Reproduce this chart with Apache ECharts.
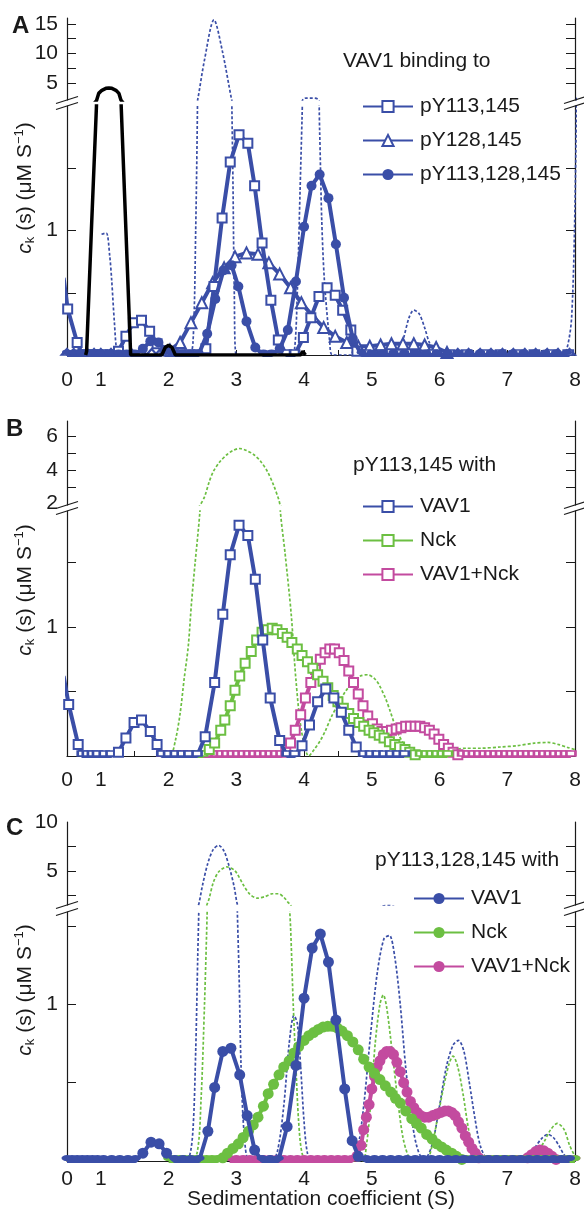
<!DOCTYPE html>
<html>
<head>
<meta charset="UTF-8">
<title>VAV1 sedimentation c(s)</title>
<script src="https://cdn.jsdelivr.net/npm/echarts@6/dist/echarts.min.js"></script>
<style>
  html, body { margin: 0; padding: 0; background: #fff; }
  #chart { width: 584px; height: 1217px; }
</style>
</head>
<body>
<div id="chart"></div>
<script>
// ---- data, [S, c(s)] pairs ----
// panel A : VAV1 binding to
var aSq113 = [[-0.1,0.62],[0.02,0.37],[0.3,0.1],[0.45,0],[0.6,0],[0.75,0],[0.9,0],[1.02,0],[1.14,0],[1.26,0.03],[1.37,0.15],[1.48,0.26],[1.6,0.28],[1.72,0.19],[1.83,0.09],[1.95,0],[2.07,0],[2.19,0],[2.31,0],[2.43,0],[2.55,0.05],[2.67,0.55],[2.79,1.1],[2.91,1.55],[3.04,1.77],[3.17,1.7],[3.27,1.36],[3.38,0.9],[3.51,0.44],[3.62,0.12],[3.74,0],[3.86,0],[3.99,0.14],[4.1,0.3],[4.22,0.47],[4.34,0.54],[4.46,0.48],[4.57,0.36],[4.69,0.2],[4.78,0.03],[4.9,0],[5.15,0],[5.4,0],[5.65,0],[5.9,0],[6.15,0],[6.4,0],[6.65,0],[6.9,0],[7.15,0],[7.4,0],[7.65,0],[7.9,0]];
var aTri128 = [[0,0],[0.2,0],[0.4,0],[0.6,0],[0.8,0],[1.0,0],[1.15,0],[1.3,0],[1.45,0],[1.6,0],[1.75,0],[1.88,0],[2.02,0.04],[2.17,0.1],[2.33,0.26],[2.49,0.42],[2.65,0.58],[2.82,0.7],[2.98,0.79],[3.15,0.82],[3.32,0.81],[3.48,0.74],[3.64,0.65],[3.8,0.54],[3.96,0.42],[4.13,0.31],[4.29,0.22],[4.46,0.15],[4.63,0.1],[4.8,0.07],[4.97,0.07],[5.13,0.08],[5.29,0.09],[5.46,0.09],[5.62,0.09],[5.78,0.08],[5.95,0.06],[6.11,0.02],[6.27,0],[6.43,0],[6.6,0],[6.76,0],[6.93,0],[7.09,0],[7.26,0],[7.42,0],[7.59,0],[7.75,0],[7.92,0]];
var aCir113128 = [[0,0],[0.2,0],[0.4,0],[0.6,0],[0.8,0],[1.0,0],[1.13,0],[1.26,0],[1.38,0],[1.5,0],[1.62,0.05],[1.73,0.11],[1.85,0.1],[1.96,0.04],[2.08,0],[2.2,0],[2.32,0],[2.44,0],[2.57,0.17],[2.69,0.45],[2.81,0.68],[2.93,0.72],[3.03,0.55],[3.15,0.27],[3.28,0.06],[3.4,0],[3.52,0],[3.64,0.05],[3.76,0.2],[3.88,0.59],[4.0,1.03],[4.11,1.36],[4.23,1.45],[4.36,1.26],[4.47,0.89],[4.59,0.46],[4.72,0.13],[4.85,0],[5.0,0],[5.16,0],[5.32,0],[5.48,0],[5.64,0],[5.8,0],[5.96,0],[6.12,0],[6.28,0],[6.44,0],[6.6,0],[6.76,0],[6.92,0],[7.08,0],[7.24,0],[7.4,0],[7.56,0],[7.72,0],[7.88,0]];
var aDotted = [[1.01,0.97],[1.08,0.98],[1.13,0.8],[1.16,0.6],[1.2,0.26],[1.24,0.02],[1.3,0],[1.6,0],[2.0,0],[2.3,0],[2.36,0.1],[2.4,1.0],[2.43,2.2],[2.53,8.9],[2.67,15.7],[2.79,10.6],[2.93,2.2],[2.95,1.4],[2.97,0.5],[3.0,0],[3.5,0],[3.8,0],[3.86,0.05],[3.9,0.5],[3.94,1.3],[3.97,1.9],[3.99,2.3],[4.03,2.45],[4.12,2.45],[4.2,2.3],[4.23,1.8],[4.26,1.1],[4.3,0.6],[4.38,0.1],[4.42,0],[5.3,0],[5.4,0.05],[5.46,0.12],[5.55,0.3],[5.62,0.36],[5.7,0.33],[5.78,0.22],[5.85,0.1],[5.95,0.02],[6.05,0],[7.8,0],[7.88,0.05],[7.95,0.3],[8.0,1.2],[8.03,2.5]];
var aBlack = [[0.55,0],[0.58,0.03],[0.72,1.0],[0.87,2.0],[0.875,2.12],[0.935,3.24],[1.015,3.76],[1.074,4.09],[1.119,4.15],[1.163,4.09],[1.222,3.76],[1.267,3.24],[1.296,2.12],[1.3,2.0],[1.37,1.0],[1.44,0],[1.9,0],[1.95,0.06],[2.0,0.08],[2.05,0.06],[2.1,0],[3.95,0],[3.98,0.03],[4.02,0]];

// panel B : pY113,145 with
var bVav = [[-0.1,0.62],[0.05,0.4],[0.33,0.09],[0.45,0],[0.6,0],[0.75,0],[0.9,0],[1.05,0],[1.15,0],[1.26,0.03],[1.37,0.14],[1.49,0.26],[1.6,0.28],[1.73,0.19],[1.83,0.09],[1.9,0],[2.0,0],[2.1,0],[2.2,0],[2.3,0],[2.42,0],[2.54,0.15],[2.68,0.57],[2.8,1.1],[2.91,1.56],[3.04,1.79],[3.17,1.71],[3.28,1.37],[3.39,0.9],[3.5,0.45],[3.64,0.12],[3.75,0],[3.86,0],[3.97,0.08],[4.08,0.24],[4.2,0.42],[4.32,0.52],[4.44,0.45],[4.55,0.34],[4.66,0.2],[4.77,0.07],[4.88,0],[4.98,0],[5.08,0],[5.18,0],[5.28,0],[5.38,0],[5.48,0]];
var bNck = [[2.4,0],[2.5,0],[2.6,0.05],[2.68,0.1],[2.77,0.2],[2.83,0.28],[2.91,0.39],[2.98,0.51],[3.05,0.62],[3.13,0.72],[3.22,0.81],[3.3,0.9],[3.38,0.96],[3.46,0.98],[3.53,0.99],[3.6,0.98],[3.68,0.95],[3.75,0.92],[3.82,0.88],[3.9,0.83],[3.97,0.78],[4.05,0.73],[4.13,0.68],[4.2,0.63],[4.28,0.58],[4.35,0.53],[4.43,0.47],[4.5,0.42],[4.58,0.37],[4.66,0.33],[4.73,0.29],[4.81,0.26],[4.88,0.23],[4.96,0.2],[5.03,0.18],[5.11,0.16],[5.18,0.14],[5.26,0.11],[5.34,0.09],[5.41,0.07],[5.49,0.05],[5.56,0.03],[5.64,0.01],[5.72,0],[5.8,0],[5.88,0],[5.96,0],[6.04,0],[6.12,0]];
var bBoth = [[1.9,0],[1.98,0],[2.06,0],[2.14,0],[2.22,0],[2.3,0],[2.38,0],[2.46,0],[2.54,0],[2.62,0],[2.7,0],[2.78,0],[2.86,0],[2.94,0],[3.02,0],[3.1,0],[3.18,0],[3.26,0],[3.34,0],[3.42,0],[3.5,0],[3.58,0],[3.66,0],[3.73,0.03],[3.8,0.1],[3.87,0.2],[3.95,0.32],[4.02,0.45],[4.1,0.57],[4.17,0.67],[4.24,0.75],[4.31,0.8],[4.38,0.83],[4.45,0.83],[4.52,0.8],[4.59,0.74],[4.66,0.66],[4.73,0.57],[4.8,0.48],[4.87,0.39],[4.94,0.31],[5.01,0.25],[5.08,0.21],[5.15,0.19],[5.22,0.19],[5.29,0.2],[5.36,0.21],[5.43,0.22],[5.5,0.23],[5.57,0.23],[5.64,0.23],[5.71,0.23],[5.78,0.22],[5.85,0.2],[5.92,0.17],[5.99,0.13],[6.06,0.09],[6.13,0.06],[6.2,0.03],[6.27,0.01],[6.34,0],[6.42,0],[6.5,0],[6.58,0],[6.66,0],[6.74,0],[6.82,0],[6.9,0],[6.98,0],[7.06,0],[7.14,0],[7.22,0],[7.3,0],[7.38,0],[7.46,0],[7.54,0],[7.62,0],[7.7,0],[7.78,0],[7.86,0],[7.94,0]];
var bNckDash = [[1.9,0],[2.02,0],[2.1,0.12],[2.17,0.33],[2.23,0.6],[2.29,0.85],[2.34,1.2],[2.39,1.49],[2.46,1.88],[2.53,2.4],[2.6,3.3],[2.66,3.9],[2.76,4.5],[2.86,4.9],[2.95,5.15],[3.05,5.27],[3.15,5.15],[3.26,4.9],[3.36,4.5],[3.46,3.9],[3.55,3.1],[3.63,2.2],[3.65,1.9],[3.72,1.57],[3.81,1.1],[3.88,0.59],[3.96,0.2],[4.07,0],[4.15,0.05],[4.24,0.12],[4.31,0.19],[4.4,0.3],[4.5,0.4],[4.61,0.5],[4.72,0.57],[4.83,0.62],[4.94,0.63],[5.04,0.6],[5.11,0.55],[5.2,0.45],[5.27,0.35],[5.34,0.24],[5.41,0.15],[5.48,0.09],[5.56,0.05],[5.65,0.03],[5.8,0.03],[6.0,0.04],[6.2,0.05],[6.4,0.06],[6.6,0.06],[6.9,0.07],[7.15,0.08],[7.4,0.1],[7.6,0.105],[7.75,0.09],[7.9,0.065],[8.0,0.05]];

// panel C : pY113,128,145 with
var cVav = [[0,0],[0.15,0],[0.3,0],[0.45,0],[0.6,0],[0.75,0],[0.9,0],[1.04,0],[1.16,0],[1.28,0],[1.4,0],[1.51,0],[1.62,0.05],[1.74,0.12],[1.86,0.11],[1.97,0.05],[2.09,0],[2.21,0],[2.33,0],[2.45,0],[2.58,0.19],[2.68,0.47],[2.8,0.7],[2.92,0.72],[3.05,0.55],[3.16,0.29],[3.27,0.07],[3.38,0],[3.5,0],[3.62,0],[3.75,0.22],[3.88,0.61],[4.0,1.04],[4.12,1.36],[4.24,1.45],[4.36,1.27],[4.47,0.9],[4.6,0.46],[4.71,0.13],[4.8,0.03],[4.92,0],[5.04,0],[5.16,0],[5.28,0],[5.4,0],[5.52,0],[5.64,0],[5.76,0],[5.88,0],[6.0,0],[6.12,0],[6.24,0],[6.36,0],[6.48,0],[6.6,0],[6.72,0],[6.84,0],[6.96,0],[7.08,0],[7.2,0],[7.32,0],[7.44,0],[7.56,0],[7.68,0],[7.8,0],[7.92,0]];
var cNck = [[2.0,0],[2.08,0],[2.16,0],[2.24,0],[2.32,0],[2.4,0],[2.48,0],[2.56,0],[2.64,0],[2.72,0],[2.8,0.02],[2.87,0.05],[2.95,0.08],[3.03,0.11],[3.1,0.15],[3.18,0.19],[3.25,0.23],[3.32,0.28],[3.4,0.35],[3.47,0.43],[3.55,0.49],[3.63,0.55],[3.7,0.6],[3.78,0.64],[3.85,0.69],[3.92,0.73],[4.0,0.77],[4.07,0.8],[4.14,0.82],[4.21,0.84],[4.28,0.855],[4.35,0.86],[4.42,0.86],[4.49,0.85],[4.56,0.83],[4.64,0.8],[4.72,0.76],[4.8,0.71],[4.88,0.65],[4.96,0.6],[5.04,0.56],[5.12,0.52],[5.2,0.48],[5.28,0.44],[5.35,0.4],[5.42,0.37],[5.5,0.32],[5.59,0.27],[5.66,0.24],[5.73,0.21],[5.81,0.17],[5.89,0.14],[5.96,0.11],[6.03,0.09],[6.1,0.07],[6.18,0.05],[6.25,0.03],[6.33,0.01],[6.4,0],[6.5,0],[6.6,0],[6.7,0],[6.8,0],[6.9,0],[7.0,0],[7.1,0],[7.2,0],[7.3,0],[7.4,0],[7.5,0],[7.6,0],[7.7,0],[7.8,0],[7.9,0],[8.0,0]];
var cBoth = [[2.9,0],[3.0,0],[3.1,0],[3.2,0],[3.3,0],[3.4,0],[3.5,0],[3.6,0],[3.7,0],[3.8,0],[3.9,0],[4.0,0],[4.1,0],[4.2,0],[4.3,0],[4.4,0],[4.5,0],[4.6,0],[4.7,0],[4.78,0.03],[4.84,0.1],[4.88,0.2],[4.92,0.28],[4.96,0.36],[5.0,0.46],[5.04,0.54],[5.08,0.6],[5.12,0.64],[5.17,0.68],[5.22,0.7],[5.27,0.7],[5.32,0.68],[5.37,0.63],[5.42,0.57],[5.47,0.5],[5.52,0.44],[5.57,0.38],[5.62,0.34],[5.67,0.31],[5.72,0.29],[5.78,0.28],[5.84,0.28],[5.9,0.29],[5.96,0.3],[6.02,0.31],[6.08,0.32],[6.13,0.32],[6.18,0.31],[6.23,0.29],[6.28,0.25],[6.33,0.21],[6.38,0.16],[6.43,0.12],[6.48,0.08],[6.53,0.05],[6.58,0.02],[6.64,0],[6.74,0],[6.84,0],[6.94,0],[7.04,0],[7.14,0],[7.24,0],[7.3,0.02],[7.36,0.04],[7.42,0.06],[7.48,0.07],[7.54,0.065],[7.6,0.05],[7.66,0.03],[7.72,0.01],[7.8,0],[7.9,0],[8.0,0]];
var cVavDash = [[2.2,0],[2.3,0.02],[2.36,0.2],[2.4,0.7],[2.43,1.3],[2.45,1.7],[2.5,3.5],[2.58,5.8],[2.66,7.2],[2.74,7.6],[2.82,7.0],[2.9,5.3],[2.97,3.3],[3.01,1.7],[3.04,1.2],[3.07,0.6],[3.12,0.15],[3.2,0],[3.5,0],[3.6,0.05],[3.7,0.35],[3.78,0.75],[3.85,0.93],[3.9,0.88],[3.95,0.6],[4.0,0.25],[4.05,0.05],[4.12,0],[4.7,0],[4.78,0.05],[4.88,0.35],[4.98,0.8],[5.08,1.2],[5.18,1.42],[5.26,1.44],[5.34,1.3],[5.42,1.0],[5.5,0.6],[5.58,0.3],[5.66,0.1],[5.75,0.02],[5.82,0.03],[5.9,0.12],[6.0,0.35],[6.1,0.6],[6.2,0.74],[6.28,0.77],[6.36,0.7],[6.44,0.5],[6.52,0.28],[6.6,0.1],[6.7,0.01],[6.8,0],[7.2,0],[7.3,0.02],[7.4,0.08],[7.5,0.14],[7.6,0.17],[7.68,0.15],[7.76,0.1],[7.84,0.04],[7.95,0],[8.0,0]];
var cNckDash = [[2.3,0],[2.42,0.05],[2.48,0.4],[2.53,1.0],[2.57,1.6],[2.6,2.2],[2.66,3.8],[2.74,4.9],[2.86,5.4],[2.98,5.0],[3.1,3.6],[3.2,2.6],[3.31,2.2],[3.42,2.35],[3.53,2.65],[3.62,2.65],[3.7,2.3],[3.76,1.8],[3.8,1.5],[3.84,1.0],[3.88,0.6],[3.92,0.25],[3.97,0.05],[4.05,0],[4.85,0],[4.92,0.1],[4.98,0.35],[5.05,0.75],[5.12,1.0],[5.17,1.06],[5.22,0.98],[5.3,0.7],[5.38,0.4],[5.46,0.15],[5.55,0.02],[5.62,0],[5.8,0],[5.88,0.08],[5.96,0.25],[6.05,0.45],[6.14,0.62],[6.2,0.67],[6.27,0.6],[6.35,0.42],[6.43,0.2],[6.52,0.05],[6.6,0],[7.3,0],[7.42,0.04],[7.54,0.12],[7.64,0.2],[7.74,0.24],[7.84,0.2],[7.92,0.1],[8.0,0.03]];

// axis ticks / labels (S and c(s) values)
var xTickLabels = [0, 1, 2, 3, 4, 5, 6, 7, 8];
var yRange  = [[2.12, 16], [0, 2.0], [1.92, 6.9], [0, 1.9], [1.5, 10], [0, 1.59]];
var yTicks  = [[5, 7.5, 10, 12.5, 15], [0.5, 1, 1.5], [3, 4, 5, 6], [0.5, 1, 1.5], [2.5, 5, 7.5], [0.5, 1, 1.5]];
var yLabels = [[5, 10, 15], [1], [2, 4, 6], [1], [5, 10], [1]];

// ---- layout ----
var FONT = "'Liberation Sans', Arial, sans-serif";
var BLUE = '#3a4ea7', GREEN = '#6cbf42', MAG = '#c34b9f', INK = '#1a1a1a';
var gridBoxes = [
  {top: 18,  height: 82}, {top: 106, height: 249},
  {top: 421, height: 84}, {top: 511, height: 245},
  {top: 822, height: 83}, {top: 912, height: 249}
];
var xLabelMargin = [0, 15, 0, 14, 0, 8];

// the 0-1 S segment is drawn at half scale
function tx(s) { return s < 1 ? s * 0.5 : s - 0.5; }
function xy(arr) { return arr.map(function (p) { return [tx(p[0]), p[1]]; }); }

var myChart = echarts.init(document.getElementById('chart'), null, {renderer: 'canvas'});

var grids = [], xAxes = [], yAxes = [];
gridBoxes.forEach(function (g, i) {
  var lower = i % 2 === 1;
  grids.push({left: 67, right: 9, top: g.top, height: g.height});
  xAxes.push({
    gridIndex: i, type: 'value', min: 0, max: 7.5, interval: 0.5, show: lower,
    axisLine: {lineStyle: {color: INK, width: 1.2}},
    axisTick: {inside: true, length: 5, lineStyle: {color: INK}},
    axisLabel: {
      customValues: xTickLabels.map(tx),
      formatter: function (v) { return String(Math.round(v <= 0.5 ? v * 2 : v + 0.5)); },
      fontFamily: FONT, fontSize: 21, color: INK, margin: xLabelMargin[i]
    },
    splitLine: {show: false}
  });
  ['left', 'right'].forEach(function (pos) {
    yAxes.push({
      gridIndex: i, type: 'value', position: pos,
      min: yRange[i][0], max: yRange[i][1],
      axisLine: {show: true, lineStyle: {color: INK, width: 1.2}},
      axisTick: {show: true, inside: true, length: 9, customValues: yTicks[i], lineStyle: {color: INK}},
      axisLabel: {show: pos === 'left', customValues: yLabels[i], fontFamily: FONT, fontSize: 21, color: INK, margin: 9},
      splitLine: {show: false}
    });
  });
});

// points lying on the baseline are half hidden by the axis in the original
function solid(name, data, grid, color, symbol, size, z) {
  var pts = xy(data).map(function (p) {
    if (p[1] !== 0) return p;
    return {value: p, symbolSize: [size, size * 0.55], symbolOffset: [0, -size * 0.27]};
  });
  return {
    name: name, type: 'line', xAxisIndex: grid, yAxisIndex: grid * 2,
    data: pts, color: color, z: z,
    symbol: symbol, symbolSize: size,
    lineStyle: {width: 4, color: color},
    itemStyle: {color: color, borderWidth: 1.6},
    emphasis: {disabled: true}
  };
}
function dashed(name, data, grid, color, z) {
  return {
    name: name, type: 'line', xAxisIndex: grid, yAxisIndex: grid * 2,
    data: xy(data), showSymbol: false, symbol: 'none', z: z, smooth: 0.3,
    lineStyle: {width: 1.7, color: color, type: [3, 2]},
    emphasis: {disabled: true}
  };
}
function black(data, grid) {
  return {name: 'blackA', type: 'line', xAxisIndex: grid, yAxisIndex: grid * 2, data: xy(data),
    symbol: 'none', z: 5, lineStyle: {width: 3.5, color: '#000'}, emphasis: {disabled: true}};
}

var series = [
  // A
  dashed('dotA', aDotted, 0, BLUE, 1), dashed('dotA', aDotted, 1, BLUE, 1),
  solid('pY128,145', aTri128, 1, BLUE, 'emptyTriangle', 11, 2),
  solid('pY113,145', aSq113, 1, BLUE, 'emptyRect', 9, 3),
  solid('pY113,128,145', aCir113128, 1, BLUE, 'circle', 10, 4),
  black(aBlack, 0), black(aBlack, 1),
  // B
  dashed('dashB', bNckDash, 2, GREEN, 1), dashed('dashB', bNckDash, 3, GREEN, 1),
  solid('VAV1+Nck|B', bBoth, 3, MAG, 'emptyRect', 9, 2),
  solid('Nck|B', bNck, 3, GREEN, 'emptyRect', 9, 3),
  solid('VAV1|B', bVav, 3, BLUE, 'emptyRect', 9, 4),
  // C
  dashed('dashCv', cVavDash, 4, BLUE, 1), dashed('dashCv', cVavDash, 5, BLUE, 1),
  dashed('dashCn', cNckDash, 4, GREEN, 1), dashed('dashCn', cNckDash, 5, GREEN, 1),
  solid('VAV1+Nck|C', cBoth, 5, MAG, 'circle', 11, 2),
  solid('Nck|C', cNck, 5, GREEN, 'circle', 11, 3),
  solid('VAV1|C', cVav, 5, BLUE, 'circle', 11, 4)
];

function legendAt(names, left, top) {
  return {
    data: names, left: left, top: top, orient: 'vertical',
    itemWidth: 50, itemHeight: 14, itemGap: 13, selectedMode: false,
    formatter: function (n) { return n.split('|')[0]; },
    textStyle: {fontFamily: FONT, fontSize: 21, color: INK, padding: [0, 0, 0, 2]}
  };
}

function txt(x, y, s, opt) {
  return {type: 'text', x: x, y: y, z: 100,
    style: Object.assign({text: s, fontFamily: FONT, fontSize: 21, fill: INK,
      align: 'left', verticalAlign: 'middle'}, opt || {})};
}
function yTitle(y) {
  return {type: 'text', x: 25, y: y, rotation: Math.PI / 2, z: 100,
    style: {
      text: '{i|c}{sub|k}{n| (s) (μM S}{sup|−1}{n|)}',
      align: 'center', verticalAlign: 'middle', fill: INK,
      rich: {
        i: {fontFamily: FONT, fontSize: 21, fontStyle: 'italic', lineHeight: 24},
        n: {fontFamily: FONT, fontSize: 21, lineHeight: 24},
        sub: {fontFamily: FONT, fontSize: 13, lineHeight: 13, verticalAlign: 'bottom'},
        sup: {fontFamily: FONT, fontSize: 13, lineHeight: 13, verticalAlign: 'top'}
      }
    }};
}
function brk(x, yU, yL) {
  var ls = {stroke: INK, lineWidth: 1.2};
  return [
    {type: 'line', z: 100, shape: {x1: x - 11, y1: yU + 3.5, x2: x + 11, y2: yU - 3.5}, style: ls},
    {type: 'line', z: 100, shape: {x1: x - 11, y1: yL + 3.5, x2: x + 11, y2: yL - 3.5}, style: ls}
  ];
}

var graphics = [
  txt(12, 26, 'A', {fontWeight: 'bold', fontSize: 24}),
  txt(6, 429, 'B', {fontWeight: 'bold', fontSize: 24}),
  txt(6, 828, 'C', {fontWeight: 'bold', fontSize: 24}),
  txt(343, 61, 'VAV1 binding to'),
  txt(353, 465, 'pY113,145 with'),
  txt(375, 860, 'pY113,128,145 with'),
  txt(321, 1199, 'Sedimentation coefficient (S)', {align: 'center'}),
  yTitle(188), yTitle(590), yTitle(990)
].concat(brk(67, 100, 106), brk(575, 100, 106), brk(67, 505, 511), brk(575, 505, 511),
         brk(67, 905, 912), brk(575, 905, 912));

var option = {
  animation: false,
  backgroundColor: '#fff',
  grid: grids, xAxis: xAxes, yAxis: yAxes,
  legend: [
    legendAt(['pY113,145', 'pY128,145', 'pY113,128,145'], 357, 91),
    legendAt(['VAV1|B', 'Nck|B', 'VAV1+Nck|B'], 357, 491),
    legendAt(['VAV1|C', 'Nck|C', 'VAV1+Nck|C'], 408, 883)
  ],
  graphic: graphics,
  series: series
};
myChart.setOption(option);
</script>
</body>
</html>
